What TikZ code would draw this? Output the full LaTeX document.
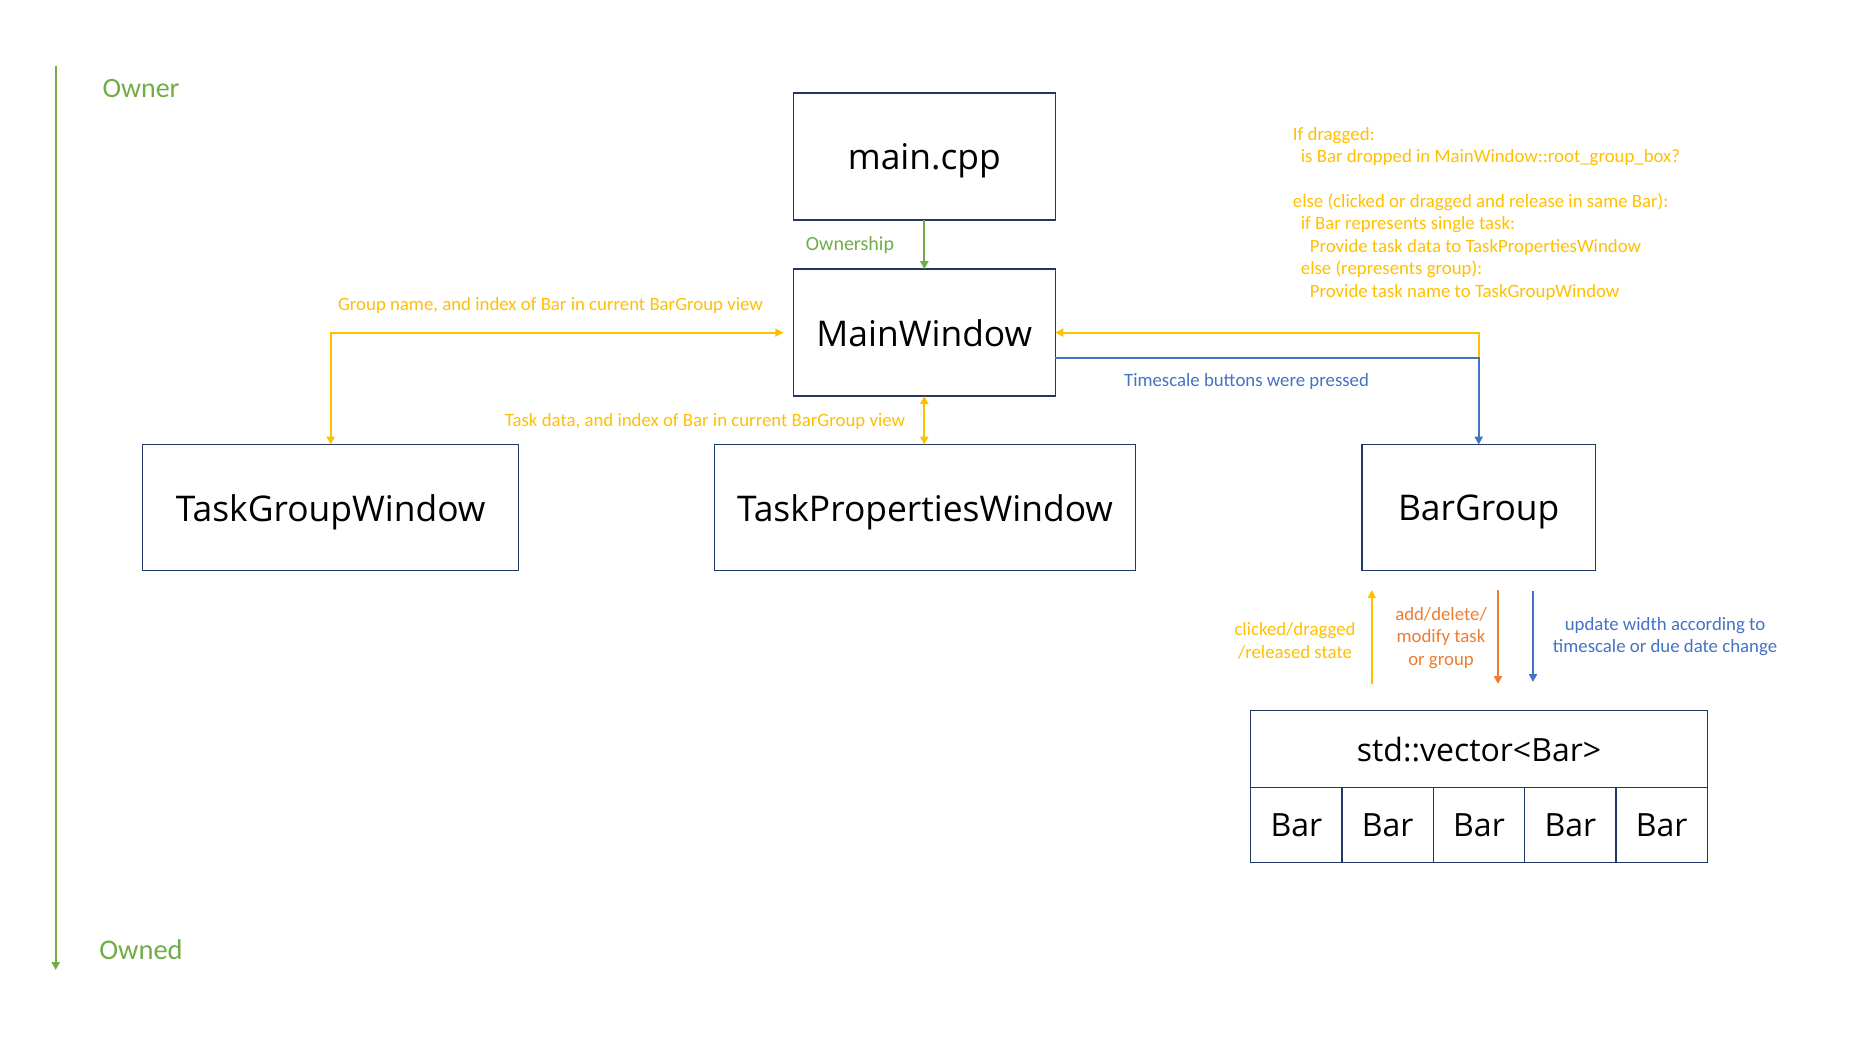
\documentclass[tikz,border=0pt]{standalone}
\usepackage{fontspec}
\setmainfont{Carlito}
\newfontfamily\boxfont{Open Sans}
\usetikzlibrary{arrows.meta}
\definecolor{ygold}{HTML}{FFC000}
\definecolor{oorange}{HTML}{ED7D31}
\definecolor{bblue}{HTML}{4472C4}
\definecolor{ggreen}{HTML}{70AD47}
\definecolor{navy}{HTML}{1F3864}
\tikzset{
  tri/.tip={Triangle[length=8pt,width=8pt]},
  obox/.style={draw=navy, line width=1.5pt, inner sep=0pt, outer sep=0pt, text depth=0pt, font=\boxfont\fontsize{35.4}{40}\selectfont},
  cell/.style={draw=navy, line width=1.5pt, inner sep=0pt, outer sep=0pt, text depth=0pt, font=\boxfont\fontsize{32}{36}\selectfont},
  conn/.style={line width=2pt},
  smalllbl/.style={font=\fontsize{18.8}{22.4}\selectfont, inner sep=0pt},
}
\begin{document}
\begin{tikzpicture}[x=1pt,y=-1pt]
\useasboundingbox[fill=white] (0,0) rectangle (1849,1040);

% owner axis
\coordinate (axTop) at (55.7,66);
\coordinate (axBot) at (55.7,970);
\draw[conn, ggreen, -tri] (axTop) -- (axBot);
\node[font=\fontsize{28}{30}\selectfont, text=ggreen] (owner) at (141,88.3) {Owner};
\node[font=\fontsize{28.5}{30}\selectfont, text=ggreen] (owned) at (141,949.3) {Owned};

% boxes
\node[obox, minimum width=262pt, minimum height=127pt] (main) at (924.3,156.6) {main.cpp};
\node[obox, minimum width=262pt, minimum height=127pt] (mw) at (924.3,332.6) {MainWindow};
\node[obox, minimum width=376pt, minimum height=126pt] (tgw) at (330.7,507.6) {TaskGroupWindow};
\node[obox, minimum width=421pt, minimum height=126pt] (tpw) at (925,507.6) {TaskPropertiesWindow};
\node[obox, minimum width=233.5pt, minimum height=126pt] (bg) at (1478.7,507.6) {BarGroup};

% vector
\node[cell, minimum width=456.6pt, minimum height=77pt] (vec) at (1479,749.2) {std::vector<Bar>};
\foreach \i in {0,...,4}{
  \node[cell, minimum width=91.32pt, minimum height=75pt] (bar\i) at ({1250.7+91.32*(\i+0.5)},825.2) {Bar};
}

% connectors
\draw[conn, ggreen, -tri] (main.south) -- (mw.north);
\node[smalllbl, text=ggreen, font=\fontsize{20}{24}\selectfont] (own) at (850,245) {Ownership};

\draw[conn, ygold, tri-tri, shorten >=10pt] (tgw.north) |- (mw.west);
\node[smalllbl, text=ygold] (lblgrp) at (550.5,305.7) {Group name, and index of Bar in current BarGroup view};

\draw[conn, ygold, tri-tri] (mw.south) -- (mw.south |- tpw.north);
\node[smalllbl, text=ygold] (lbltask) at (705,421) {Task data, and index of Bar in current BarGroup view};

\coordinate (jn) at (bg.north |- 0,357.6);
\draw[conn, ygold, -tri] (jn) |- (mw.east);
\draw[conn, bblue, -tri] ([yshift=-25pt]mw.east) -| (bg.north);
\node[smalllbl, text=bblue] (lbltime) at (1246.5,381) {Timescale buttons were pressed};

\node[smalllbl, text=ygold, align=left, anchor=north west] (lblif) at (1292.7,127) {If dragged:\\
\hspace*{8pt}is Bar dropped in MainWindow::root\_group\_box?\\[22.4pt]
else (clicked or dragged and release in same Bar):\\
\hspace*{8pt}if Bar represents single task:\\
\hspace*{17pt}Provide task data to TaskPropertiesWindow\\
\hspace*{8pt}else (represents group):\\
\hspace*{17pt}Provide task name to TaskGroupWindow};

% bar group <-> vector
\coordinate (yB) at (1371.8,684);
\coordinate (yT) at (1371.8,590);
\coordinate (oT) at (1498,590);
\coordinate (oB) at (1498,684);
\coordinate (bT) at (1533,591);
\coordinate (bB) at (1533,682);
\draw[conn, ygold, -tri] (yB) -- (yT);
\draw[conn, oorange, -tri] (oT) -- (oB);
\draw[conn, bblue, -tri] (bT) -- (bB);
\node[smalllbl, text=ygold, align=center] (lblclick) at (1295,641) {clicked/dragged\\/released state};
\node[smalllbl, text=oorange, align=center] (lbladd) at (1441,638) {add/delete/\\modify task\\or group};
\node[smalllbl, text=bblue, align=center] (lblupd) at (1665,636.5) {update width according to\\timescale or due date change};
\end{tikzpicture}
\end{document}
